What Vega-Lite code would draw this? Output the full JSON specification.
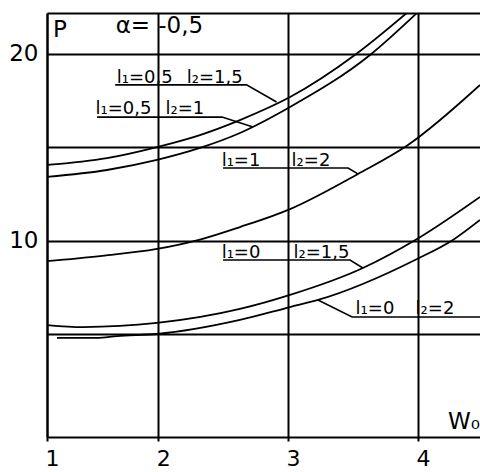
{
  "$schema": "https://vega.github.io/schema/vega-lite/v6.json",
  "width": 433,
  "height": 424,
  "autosize": {"type": "none"},
  "padding": {"left": 47, "top": 13, "right": 0, "bottom": 35},
  "background": "white",
  "config": {"view": {"stroke": null}, "font": "DejaVu Sans"},
  "datasets": {
    "curves": [
      {"curve": "l1=0,5 l2=1,5", "W0": 1.143, "P": 14.04},
      {"curve": "l1=0,5 l2=1,5", "W0": 1.605, "P": 14.41},
      {"curve": "l1=0,5 l2=1,5", "W0": 1.99, "P": 15.0},
      {"curve": "l1=0,5 l2=1,5", "W0": 2.321, "P": 15.64},
      {"curve": "l1=0,5 l2=1,5", "W0": 2.629, "P": 16.44},
      {"curve": "l1=0,5 l2=1,5", "W0": 3.015, "P": 17.67},
      {"curve": "l1=0,5 l2=1,5", "W0": 3.514, "P": 19.92},
      {"curve": "l1=0,5 l2=1,5", "W0": 3.923, "P": 22.22},
      {"curve": "l1=0,5 l2=1", "W0": 1.143, "P": 13.4},
      {"curve": "l1=0,5 l2=1", "W0": 1.605, "P": 13.77},
      {"curve": "l1=0,5 l2=1", "W0": 1.99, "P": 14.31},
      {"curve": "l1=0,5 l2=1", "W0": 2.321, "P": 14.95},
      {"curve": "l1=0,5 l2=1", "W0": 2.629, "P": 15.75},
      {"curve": "l1=0,5 l2=1", "W0": 3.015, "P": 17.14},
      {"curve": "l1=0,5 l2=1", "W0": 3.631, "P": 19.92},
      {"curve": "l1=0,5 l2=1", "W0": 3.993, "P": 22.17},
      {"curve": "l1=1 l2=2", "W0": 1.143, "P": 8.9},
      {"curve": "l1=1 l2=2", "W0": 1.551, "P": 9.17},
      {"curve": "l1=1 l2=2", "W0": 1.99, "P": 9.55},
      {"curve": "l1=1 l2=2", "W0": 2.321, "P": 10.05},
      {"curve": "l1=1 l2=2", "W0": 2.629, "P": 10.72},
      {"curve": "l1=1 l2=2", "W0": 3.015, "P": 11.68},
      {"curve": "l1=1 l2=2", "W0": 3.538, "P": 13.56},
      {"curve": "l1=1 l2=2", "W0": 3.923, "P": 15.11},
      {"curve": "l1=1 l2=2", "W0": 4.478, "P": 18.32},
      {"curve": "l1=0 l2=1,5", "W0": 1.143, "P": 5.48},
      {"curve": "l1=0 l2=1,5", "W0": 1.42, "P": 5.37},
      {"curve": "l1=0 l2=1,5", "W0": 1.99, "P": 5.59},
      {"curve": "l1=0 l2=1,5", "W0": 2.629, "P": 6.34},
      {"curve": "l1=0 l2=1,5", "W0": 3.015, "P": 7.09},
      {"curve": "l1=0 l2=1,5", "W0": 3.576, "P": 8.53},
      {"curve": "l1=0 l2=1,5", "W0": 3.993, "P": 10.08},
      {"curve": "l1=0 l2=1,5", "W0": 4.478, "P": 12.33},
      {"curve": "l1=0 l2=2", "W0": 1.22, "P": 4.79},
      {"curve": "l1=0 l2=2", "W0": 1.528, "P": 4.79},
      {"curve": "l1=0 l2=2", "W0": 1.682, "P": 4.89},
      {"curve": "l1=0 l2=2", "W0": 1.99, "P": 5.0},
      {"curve": "l1=0 l2=2", "W0": 2.629, "P": 5.75},
      {"curve": "l1=0 l2=2", "W0": 3.015, "P": 6.44},
      {"curve": "l1=0 l2=2", "W0": 3.23, "P": 6.82},
      {"curve": "l1=0 l2=2", "W0": 3.993, "P": 9.01},
      {"curve": "l1=0 l2=2", "W0": 4.269, "P": 10.03},
      {"curve": "l1=0 l2=2", "W0": 4.478, "P": 11.1}
    ],
    "leaders": [
      {"leader": "a", "W0": 1.668, "P": 18.32},
      {"leader": "a", "W0": 2.68, "P": 18.32},
      {"leader": "a", "W0": 2.911, "P": 17.41},
      {"leader": "b", "W0": 1.528, "P": 16.6},
      {"leader": "b", "W0": 2.491, "P": 16.6},
      {"leader": "b", "W0": 2.73, "P": 16.07},
      {"leader": "c", "W0": 2.499, "P": 13.88},
      {"leader": "c", "W0": 3.462, "P": 13.88},
      {"leader": "c", "W0": 3.538, "P": 13.56},
      {"leader": "d", "W0": 2.499, "P": 8.96},
      {"leader": "d", "W0": 3.477, "P": 8.96},
      {"leader": "d", "W0": 3.576, "P": 8.53},
      {"leader": "e", "W0": 3.23, "P": 6.82},
      {"leader": "e", "W0": 3.493, "P": 5.91},
      {"leader": "e", "W0": 4.478, "P": 5.91}
    ],
    "notes": [
      {"kind": "lbl", "text": "l₁=0,5", "W0": 1.68, "P": 18.43},
      {"kind": "lbl", "text": "l₂=1,5", "W0": 2.219, "P": 18.43},
      {"kind": "lbl", "text": "l₁=0,5", "W0": 1.517, "P": 16.76},
      {"kind": "lbl", "text": "l₂=1", "W0": 2.056, "P": 16.76},
      {"kind": "lbl", "text": "l₁=1", "W0": 2.488, "P": 13.98},
      {"kind": "lbl", "text": "l₂=2", "W0": 3.027, "P": 13.98},
      {"kind": "lbl", "text": "l₁=0", "W0": 2.488, "P": 9.06},
      {"kind": "lbl", "text": "l₂=1,5", "W0": 3.042, "P": 9.06},
      {"kind": "lbl", "text": "l₁=0", "W0": 3.52, "P": 6.07},
      {"kind": "lbl", "text": "l₂=2", "W0": 3.982, "P": 6.07},
      {"kind": "head", "text": "P", "W0": 1.189, "P": 20.88},
      {"kind": "head", "text": "α=", "W0": 1.672, "P": 21.1},
      {"kind": "head", "text": "-0,5", "W0": 2.0, "P": 21.1},
      {"kind": "axis", "text": "W₀", "W0": 4.478, "P": -0.08}
    ]
  },
  "layer": [
    {
      "data": {"name": "curves"},
      "mark": {"type": "line", "color": "black", "strokeWidth": 1.8, "interpolate": "monotone", "clip": true},
      "encoding": {
        "x": {
          "field": "W0", "type": "quantitative",
          "scale": {"domain": [1.143, 4.478], "nice": false, "zero": false},
          "axis": {
            "title": null,
            "values": [1.143, 2, 3, 4],
            "labelExpr": "datum.value < 1.5 ? '1' : format(datum.value, 'd')",
            "grid": true, "gridColor": "black", "gridWidth": 2, "gridOpacity": 1,
            "domainColor": "black", "domainWidth": 2,
            "tickColor": "black", "tickWidth": 2, "tickSize": 4,
            "labelFont": "DejaVu Sans", "labelFontSize": 22, "labelColor": "black",
            "labelAlign": "left", "labelBaseline": "top", "labelPadding": 7,
            "labelOffset": -2, "labelFlush": false
          }
        },
        "y": {
          "field": "P", "type": "quantitative",
          "scale": {"domain": [-0.508, 22.166], "nice": false, "zero": false},
          "axis": {
            "title": null,
            "values": [5, 10, 15, 20, 22.166],
            "labelExpr": "datum.value == 10 || datum.value == 20 ? datum.label : ''",
            "grid": true, "gridColor": "black", "gridWidth": 2, "gridOpacity": 1,
            "domainColor": "black", "domainWidth": 2,
            "ticks": false,
            "labelFont": "DejaVu Sans", "labelFontSize": 23, "labelColor": "black",
            "labelPadding": 9
          }
        },
        "detail": {"field": "curve"}
      }
    },
    {
      "data": {"name": "leaders"},
      "mark": {"type": "line", "color": "black", "strokeWidth": 1.6},
      "encoding": {
        "x": {"field": "W0", "type": "quantitative"},
        "y": {"field": "P", "type": "quantitative"},
        "detail": {"field": "leader"}
      }
    },
    {
      "data": {"name": "notes"},
      "transform": [{"filter": "datum.kind == 'lbl'"}],
      "mark": {"type": "text", "align": "left", "baseline": "alphabetic", "fontSize": 18, "color": "black", "font": "DejaVu Sans"},
      "encoding": {
        "x": {"field": "W0", "type": "quantitative"},
        "y": {"field": "P", "type": "quantitative"},
        "text": {"field": "text"}
      }
    },
    {
      "data": {"name": "notes"},
      "transform": [{"filter": "datum.kind == 'head'"}],
      "mark": {"type": "text", "align": "left", "baseline": "alphabetic", "fontSize": 23, "color": "black", "font": "DejaVu Sans"},
      "encoding": {
        "x": {"field": "W0", "type": "quantitative"},
        "y": {"field": "P", "type": "quantitative"},
        "text": {"field": "text"}
      }
    },
    {
      "data": {"name": "notes"},
      "transform": [{"filter": "datum.kind == 'axis'"}],
      "mark": {"type": "text", "align": "right", "baseline": "alphabetic", "fontSize": 23, "color": "black", "font": "DejaVu Sans"},
      "encoding": {
        "x": {"field": "W0", "type": "quantitative"},
        "y": {"field": "P", "type": "quantitative"},
        "text": {"field": "text"}
      }
    }
  ]
}
